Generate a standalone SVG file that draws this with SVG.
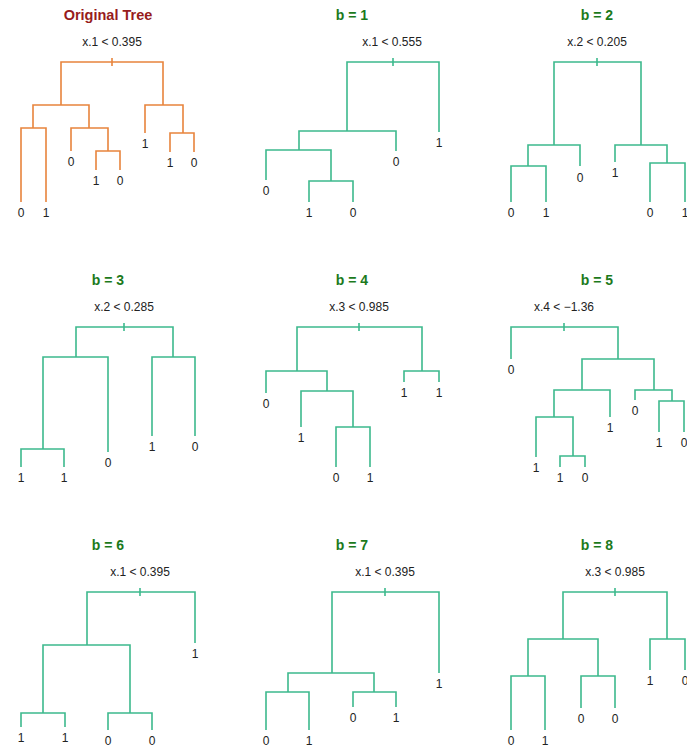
<svg xmlns="http://www.w3.org/2000/svg" width="687" height="748" viewBox="0 0 687 748">
<style>
.e{fill:none;stroke-width:1.6;stroke-linecap:butt;stroke-linejoin:miter}
.o{stroke:#E8843C}
.g{stroke:#3DB98D}
.t{font-family:"Liberation Sans",Arial,sans-serif;font-weight:bold;font-size:14px;text-anchor:middle;fill:#1C7A1C}
.tr{fill:#971C1C;font-size:14.5px}
.s{font-family:"Liberation Sans",Arial,sans-serif;font-size:12px;text-anchor:middle;fill:#222}
.l{font-family:"Liberation Sans",Arial,sans-serif;font-size:12px;text-anchor:middle;fill:#222}
</style>
<rect width="687" height="748" fill="#fff"/>

<g id="panel-original">
<text class="t tr" x="108" y="20">Original Tree</text>
<text class="s" x="112" y="46">x.1 &lt; 0.395</text>
<g id="connectors-original" class="e o">
<path d="M61 105V62H163V105"/><path d="M112 58V66"/>
<path d="M33 128V105H89V128"/>
<path d="M21 202V128H46V202"/>
<path d="M71 151V128H108V151"/>
<path d="M96 170V151H120V170"/>
<path d="M145 133V105H183V133"/>
<path d="M170 152V133H194V152"/>
</g>
<g id="leaves-original" class="l">
<text x="21" y="217">0</text><text x="46" y="217">1</text>
<text x="71" y="166">0</text><text x="96" y="185">1</text><text x="120" y="185">0</text>
<text x="145" y="148">1</text><text x="170" y="167">1</text><text x="194" y="167">0</text>
</g>
</g>

<g id="panel-b1">
<text class="t" x="352" y="20">b = 1</text>
<text class="s" x="392" y="46">x.1 &lt; 0.555</text>
<g id="connectors-b1" class="e g">
<path d="M347 131V62H439V132"/><path d="M393 58V66"/>
<path d="M299 150V131H396V151"/>
<path d="M266 180V150H331V181"/>
<path d="M309 202V181H353V202"/>
</g>
<g id="leaves-b1" class="l">
<text x="439" y="147">1</text><text x="396" y="166">0</text><text x="266" y="195">0</text>
<text x="309" y="217">1</text><text x="353" y="217">0</text>
</g>
</g>

<g id="panel-b2">
<text class="t" x="597" y="20">b = 2</text>
<text class="s" x="597" y="46">x.2 &lt; 0.205</text>
<g id="connectors-b2" class="e g">
<path d="M554 145V62H641V145"/><path d="M597 58V66"/>
<path d="M528 166V145H580V166"/>
<path d="M511 202V166H546V202"/>
<path d="M615 162V145H667V163"/>
<path d="M650 202V163H685V202"/>
</g>
<g id="leaves-b2" class="l">
<text x="511" y="217">0</text><text x="546" y="217">1</text><text x="580" y="182">0</text>
<text x="615" y="177">1</text><text x="650" y="217">0</text><text x="685" y="217">1</text>
</g>
</g>

<g id="panel-b3">
<text class="t" x="108" y="285">b = 3</text>
<text class="s" x="124" y="311">x.2 &lt; 0.285</text>
<g id="connectors-b3" class="e g">
<path d="M76 357V327H173V357"/><path d="M124 323V331"/>
<path d="M43 449V357H108V452"/>
<path d="M21 467V449H64V467"/>
<path d="M152 436V357H195V436"/>
</g>
<g id="leaves-b3" class="l">
<text x="21" y="482">1</text><text x="64" y="482">1</text><text x="108" y="467">0</text>
<text x="152" y="451">1</text><text x="195" y="451">0</text>
</g>
</g>

<g id="panel-b4">
<text class="t" x="352" y="285">b = 4</text>
<text class="s" x="359" y="311">x.3 &lt; 0.985</text>
<g id="connectors-b4" class="e g">
<path d="M297 371V327H422V371"/><path d="M359 323V331"/>
<path d="M266 393V371H327V391"/>
<path d="M301 427V391H353V427"/>
<path d="M336 467V427H370V467"/>
<path d="M404 382V371H439V382"/>
</g>
<g id="leaves-b4" class="l">
<text x="266" y="408">0</text><text x="301" y="442">1</text>
<text x="336" y="482">0</text><text x="370" y="482">1</text>
<text x="404" y="397">1</text><text x="439" y="397">1</text>
</g>
</g>

<g id="panel-b5">
<text class="t" x="597" y="285">b = 5</text>
<text class="s" x="564" y="311">x.4 &lt; −1.36</text>
<g id="connectors-b5" class="e g">
<path d="M511 359V327H618V359"/><path d="M564 323V331"/>
<path d="M582 390V359H654V390"/>
<path d="M554 417V390H610V417"/>
<path d="M536 457V417H573V456"/>
<path d="M560 467V456H585V467"/>
<path d="M635 400V390H672V401"/>
<path d="M659 432V401H684V432"/>
</g>
<g id="leaves-b5" class="l">
<text x="511" y="374">0</text><text x="610" y="432">1</text><text x="536" y="472">1</text>
<text x="560" y="482">1</text><text x="585" y="482">0</text><text x="635" y="415">0</text>
<text x="659" y="447">1</text><text x="684" y="447">0</text>
</g>
</g>

<g id="panel-b6">
<text class="t" x="108" y="550">b = 6</text>
<text class="s" x="140" y="576">x.1 &lt; 0.395</text>
<g id="connectors-b6" class="e g">
<path d="M87 645V592H195V643"/><path d="M140 588V596"/>
<path d="M43 713V645H130V713"/>
<path d="M21 727V713H65V727"/>
<path d="M108 730V713H152V730"/>
</g>
<g id="leaves-b6" class="l">
<text x="195" y="658">1</text><text x="21" y="742">1</text><text x="65" y="742">1</text>
<text x="108" y="745">0</text><text x="152" y="745">0</text>
</g>
</g>

<g id="panel-b7">
<text class="t" x="352" y="550">b = 7</text>
<text class="s" x="385" y="576">x.1 &lt; 0.395</text>
<g id="connectors-b7" class="e g">
<path d="M332 673V592H439V673"/><path d="M385 588V596"/>
<path d="M288 692V673H374V692"/>
<path d="M266 730V692H309V730"/>
<path d="M353 707V692H396V707"/>
</g>
<g id="leaves-b7" class="l">
<text x="439" y="688">1</text><text x="266" y="745">0</text><text x="309" y="745">1</text>
<text x="353" y="722">0</text><text x="396" y="722">1</text>
</g>
</g>

<g id="panel-b8">
<text class="t" x="597" y="550">b = 8</text>
<text class="s" x="615" y="576">x.3 &lt; 0.985</text>
<g id="connectors-b8" class="e g">
<path d="M563 639V592H667V639"/><path d="M615 588V596"/>
<path d="M528 676V639H598V676"/>
<path d="M511 730V676H545V730"/>
<path d="M581 708V676H615V708"/>
<path d="M650 670V639H685V670"/>
</g>
<g id="leaves-b8" class="l">
<text x="511" y="745">0</text><text x="545" y="745">1</text>
<text x="581" y="723">0</text><text x="615" y="723">0</text>
<text x="650" y="685">1</text><text x="685" y="685">0</text>
</g>
</g>
</svg>
